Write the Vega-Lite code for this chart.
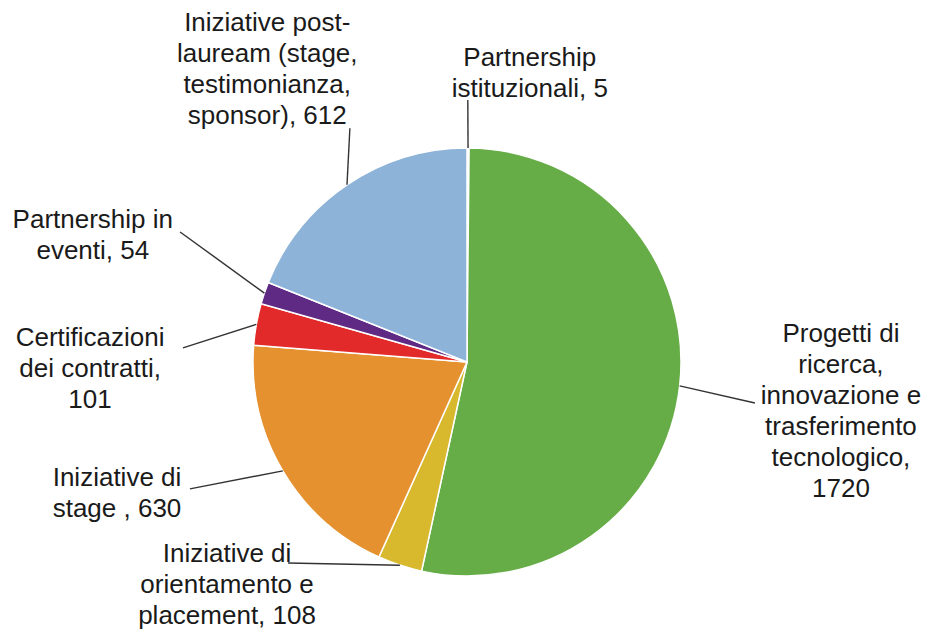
{
  "$schema": "https://vega.github.io/schema/vega-lite/v6.json",
  "width": 929,
  "height": 629,
  "autosize": {"type": "none"},
  "padding": 0,
  "background": "white",
  "config": {"view": {"stroke": null}},
  "data": {
    "values": [
      {"category": "Partnership istituzionali", "value": 5, "label": "Partnership\nistituzionali, 5"},
      {"category": "Progetti di ricerca, innovazione e trasferimento tecnologico", "value": 1720, "label": "Progetti di\nricerca,\ninnovazione e\ntrasferimento\ntecnologico,\n1720"},
      {"category": "Iniziative di orientamento e placement", "value": 108, "label": "Iniziative di\norientamento e\nplacement, 108"},
      {"category": "Iniziative di stage", "value": 630, "label": "Iniziative di\nstage , 630"},
      {"category": "Certificazioni dei contratti", "value": 101, "label": "Certificazioni\ndei contratti,\n101"},
      {"category": "Partnership in eventi", "value": 54, "label": "Partnership in\neventi, 54"},
      {"category": "Iniziative post-lauream (stage, testimonianza, sponsor)", "value": 612, "label": "Iniziative post-\nlauream (stage,\ntestimonianza,\nsponsor), 612"}
    ]
  },
  "transform": [
    {"window": [{"op": "row_number", "as": "rank"}]},
    {"stack": "value", "groupby": [], "sort": [{"field": "rank", "order": "ascending"}], "as": ["v0", "v1"]},
    {"joinaggregate": [{"op": "sum", "field": "value", "as": "total"}]},
    {"calculate": "PI * (datum.v0 + datum.v1) / datum.total", "as": "mid"},
    {"calculate": "sin(datum.mid)", "as": "sx"},
    {"calculate": "cos(datum.mid)", "as": "sy"},
    {"calculate": "datum.mid + [-0.1, 1.7, 23.4, 6.0, -7.3, 5.6, 7.5][datum.rank - 1] * PI / 180", "as": "la"},
    {"calculate": "[1.224, 1.359, 1.258, 1.424, 1.329, 1.472, 1.222][datum.rank - 1]", "as": "lr"},
    {"calculate": "datum.lr * sin(datum.la)", "as": "ex"},
    {"calculate": "datum.lr * cos(datum.la)", "as": "ey"},
    {"calculate": "datum.mid + [11.7, -9.5, 31.9, 11.1, -7.7, 0.9, 3.0][datum.rank - 1] * PI / 180", "as": "ta"},
    {"calculate": "[1.414, 1.750, 1.460, 1.735, 1.763, 1.857, 1.807][datum.rank - 1]", "as": "tr"},
    {"calculate": "datum.tr * sin(datum.ta)", "as": "tx"},
    {"calculate": "datum.tr * cos(datum.ta)", "as": "ty"}
  ],
  "layer": [
    {
      "mark": {"type": "arc", "outerRadius": 214, "stroke": "white", "strokeWidth": 1.5},
      "encoding": {
        "x": {"datum": 0, "type": "quantitative", "scale": {"domain": [-2.18224, 2.15888], "nice": false, "zero": false}, "axis": null},
        "y": {"datum": 0, "type": "quantitative", "scale": {"domain": [-1.24766, 1.69159], "nice": false, "zero": false}, "axis": null},
        "theta": {"field": "value", "type": "quantitative", "stack": true},
        "order": {"field": "rank", "type": "quantitative", "sort": "ascending"},
        "color": {
          "field": "category",
          "type": "nominal",
          "legend": null,
          "scale": {
            "domain": [
              "Partnership istituzionali",
              "Progetti di ricerca, innovazione e trasferimento tecnologico",
              "Iniziative di orientamento e placement",
              "Iniziative di stage",
              "Certificazioni dei contratti",
              "Partnership in eventi",
              "Iniziative post-lauream (stage, testimonianza, sponsor)"
            ],
            "range": ["#F2F2F2", "#66AC47", "#D8B92E", "#E5912F", "#E32A2A", "#5E2A84", "#8DB4D8"]
          }
        }
      }
    },
    {
      "mark": {"type": "rule", "color": "#333333", "strokeWidth": 1.4},
      "encoding": {
        "x": {"field": "sx", "type": "quantitative", "scale": {"domain": [-2.18224, 2.15888], "nice": false, "zero": false}, "axis": null},
        "y": {"field": "sy", "type": "quantitative", "scale": {"domain": [-1.24766, 1.69159], "nice": false, "zero": false}, "axis": null},
        "x2": {"field": "ex"},
        "y2": {"field": "ey"}
      }
    },
    {
      "mark": {"type": "text", "align": "center", "baseline": "alphabetic", "fontSize": 26, "lineHeight": 31, "font": "Liberation Sans", "color": "#1A1A1A", "lineBreak": "\n"},
      "encoding": {
        "x": {"field": "tx", "type": "quantitative", "scale": {"domain": [-2.18224, 2.15888], "nice": false, "zero": false}, "axis": null},
        "y": {"field": "ty", "type": "quantitative", "scale": {"domain": [-1.24766, 1.69159], "nice": false, "zero": false}, "axis": null},
        "text": {"field": "label"}
      }
    }
  ]
}
